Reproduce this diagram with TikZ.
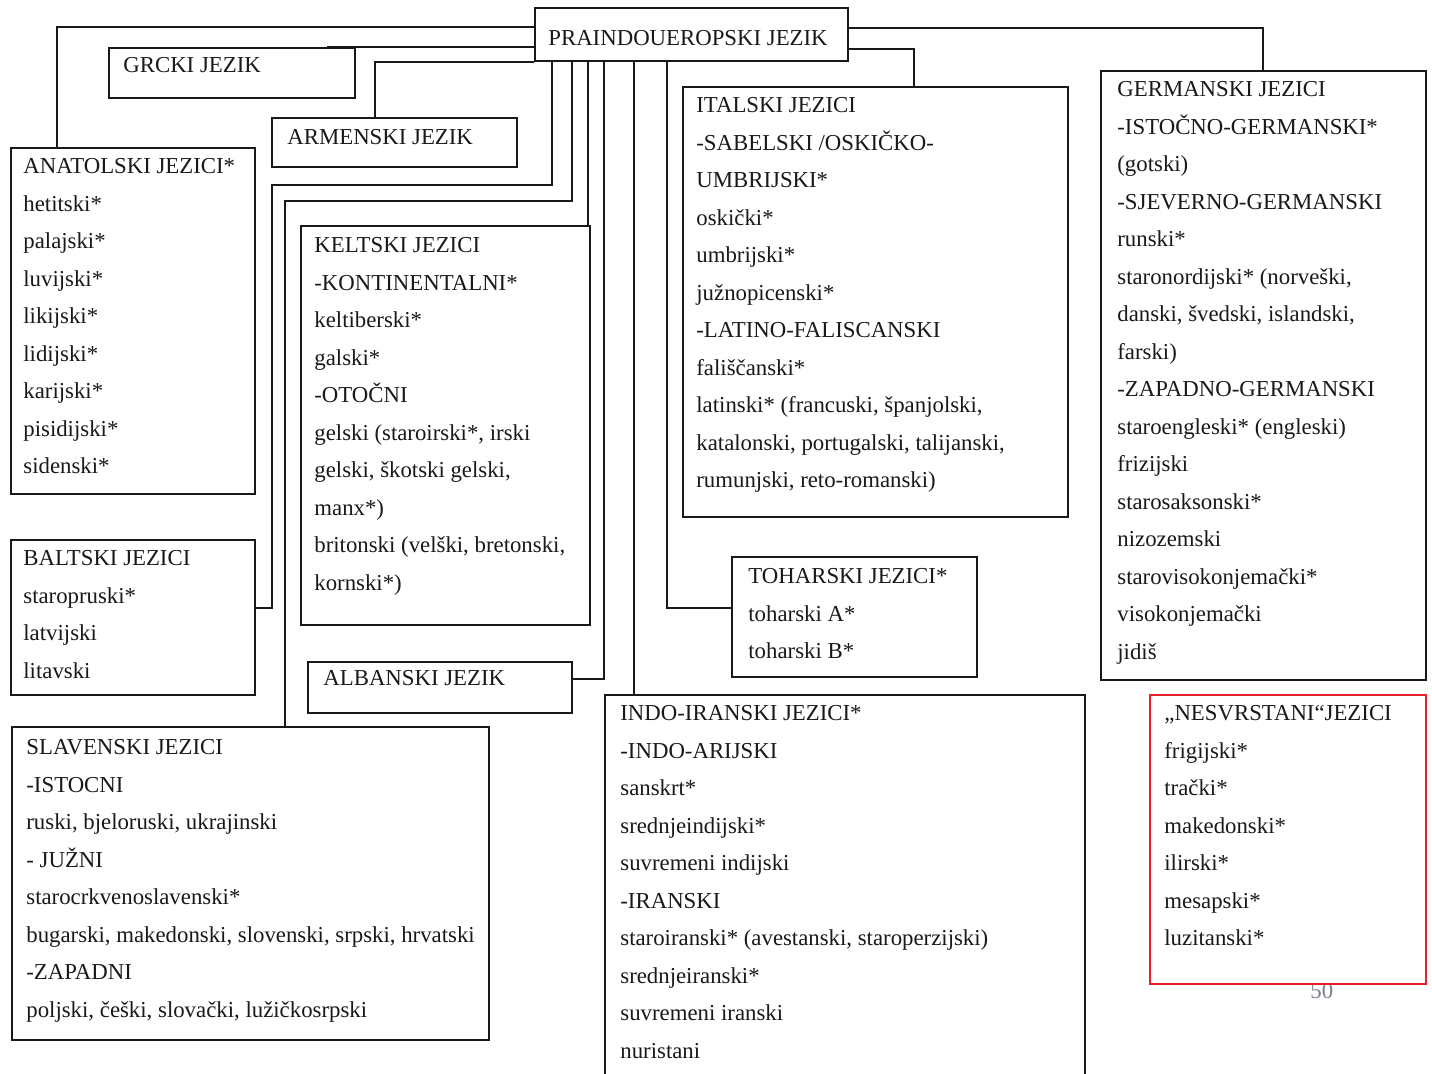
\documentclass[tikz,border=0pt]{standalone}
\usepackage{fontspec}
\setmainfont{Liberation Serif}
\usetikzlibrary{fit}
\definecolor{redbox}{RGB}{228,32,40}
\definecolor{pgnum}{RGB}{125,128,140}
\definecolor{ink}{RGB}{25,25,25}
\newcommand\mystrut{\rule{0pt}{11pt}}
\begin{document}
\begin{tikzpicture}[x=0.5pt,y=-0.5pt,
  box/.style={draw=ink, line width=1pt, inner sep=0pt},
  redbx/.style={draw=redbox, line width=1pt, inner sep=0pt, fill=white},
  txt/.style={anchor=north west, inner sep=0pt, align=left, text=ink,
              font=\fontsize{11.4}{18.75}\selectfont},
  conn/.style={draw=ink, line width=1pt}]
\path[use as bounding box] (0,0) rectangle (1432,1074);
\clip (0,0) rectangle (1432,1074);
\fill[white] (0,0) rectangle (1432,1074);

% ---------- boxes ----------
\node[box, fit={(535,8) (848,61)}]   (root) {};
\node[box, fit={(109,48) (355,98)}]  (grc)  {};
\node[box, fit={(272,118) (517,167)}] (arm) {};
\node[box, fit={(11,148) (255,494)}] (anat) {};
\node[box, fit={(11,540) (255,695)}] (balt) {};
\node[box, fit={(12,727) (489,1040)}] (slav) {};
\node[box, fit={(301,226) (590,625)}] (kelt) {};
\node[box, fit={(308,662) (572,713)}] (alb) {};
\node[box, fit={(683,87) (1068,517)}] (ital) {};
\node[box, fit={(732,557) (977,677)}] (toh) {};
\node[box, fit={(605,695) (1085,1095)}] (indo) {};
\node[box, fit={(1101,71) (1426,680)}] (germ) {};
\node[txt, text=pgnum] (pg) at (1310,976) {\mystrut 50};
\node[redbx, fit={(1150,695) (1426,984)}] (nes) {};

% ---------- texts ----------
\node[txt] (rootT) at (548,23.5) {\mystrut PRAINDOUEROPSKI JEZIK};
\node[txt] (grcT) at (123,50.5) {\mystrut GRCKI JEZIK};
\node[txt] (armT) at (287,122.5) {\mystrut ARMENSKI JEZIK};
\node[txt] (anatT) at (23,151.5) {\mystrut ANATOLSKI JEZICI*\\hetitski*\\palajski*\\luvijski*\\likijski*\\lidijski*\\karijski*\\pisidijski*\\sidenski*};
\node[txt] (baltT) at (23,543.5) {\mystrut BALTSKI JEZICI\\staropruski*\\latvijski\\litavski};
\node[txt] (slavT) at (26,732.5) {\mystrut SLAVENSKI JEZICI\\-ISTOCNI\\ruski, bjeloruski, ukrajinski\\- JUŽNI\\starocrkvenoslavenski*\\bugarski, makedonski, slovenski, srpski, hrvatski\\-ZAPADNI\\poljski, češki, slovački, lužičkosrpski};
\node[txt] (keltT) at (314,230.5) {\mystrut KELTSKI JEZICI\\-KONTINENTALNI*\\keltiberski*\\galski*\\-OTOČNI\\gelski (staroirski*, irski\\gelski, škotski gelski,\\manx*)\\britonski (velški, bretonski,\\kornski*)};
\node[txt] (albT) at (323,663.5) {\mystrut ALBANSKI JEZIK};
\node[txt] (italT) at (696,90.5) {\mystrut ITALSKI JEZICI\\-SABELSKI /OSKIČKO-\\UMBRIJSKI*\\oskički*\\umbrijski*\\južnopicenski*\\-LATINO-FALISCANSKI\\fališčanski*\\latinski* (francuski, španjolski,\\katalonski, portugalski, talijanski,\\rumunjski, reto-romanski)};
\node[txt] (tohT) at (748,561.5) {\mystrut TOHARSKI JEZICI*\\toharski A*\\toharski B*};
\node[txt] (indoT) at (620,698.5) {\mystrut INDO-IRANSKI JEZICI*\\-INDO-ARIJSKI\\sanskrt*\\srednjeindijski*\\suvremeni indijski\\-IRANSKI\\staroiranski* (avestanski, staroperzijski)\\srednjeiranski*\\suvremeni iranski\\nuristani};
\node[txt] (germT) at (1117,74.5) {\mystrut GERMANSKI JEZICI\\-ISTOČNO-GERMANSKI*\\(gotski)\\-SJEVERNO-GERMANSKI\\runski*\\staronordijski* (norveški,\\danski, švedski, islandski,\\farski)\\-ZAPADNO-GERMANSKI\\staroengleski* (engleski)\\frizijski\\starosaksonski*\\nizozemski\\starovisokonjemački*\\visokonjemački\\jidiš};
\node[txt] (nesT) at (1164,698.5) {\mystrut „NESVRSTANI“JEZICI\\frigijski*\\trački*\\makedonski*\\ilirski*\\mesapski*\\luzitanski*};

% ---------- connectors ----------
\draw[conn] (root.west |- 0,27) -| (57,0 |- anat.north);
\draw[conn] (root.west |- 0,47) -| (327,0 |- grc.north);
\draw[conn] (root.south west) -| (375,0 |- arm.north);
\draw[conn] (552,0 |- root.south) |- (272,185) |- (balt.east |- 0,608);
\draw[conn] (572,0 |- root.south) |- (285,201) -- (285,0 |- slav.north);
\draw[conn] (588,0 |- root.south) -- (588,0 |- kelt.north);
\draw[conn] (604,0 |- root.south) |- (alb.east |- 0,679);
\draw[conn] (634,0 |- root.south) -- (634,0 |- indo.north);
\draw[conn] (667,0 |- root.south) |- (toh.west |- 0,608);
\draw[conn] (root.east |- 0,28) -| (1263,0 |- germ.north);
\draw[conn] (root.east |- 0,49) -| (914,0 |- ital.north);
\end{tikzpicture}
\end{document}
